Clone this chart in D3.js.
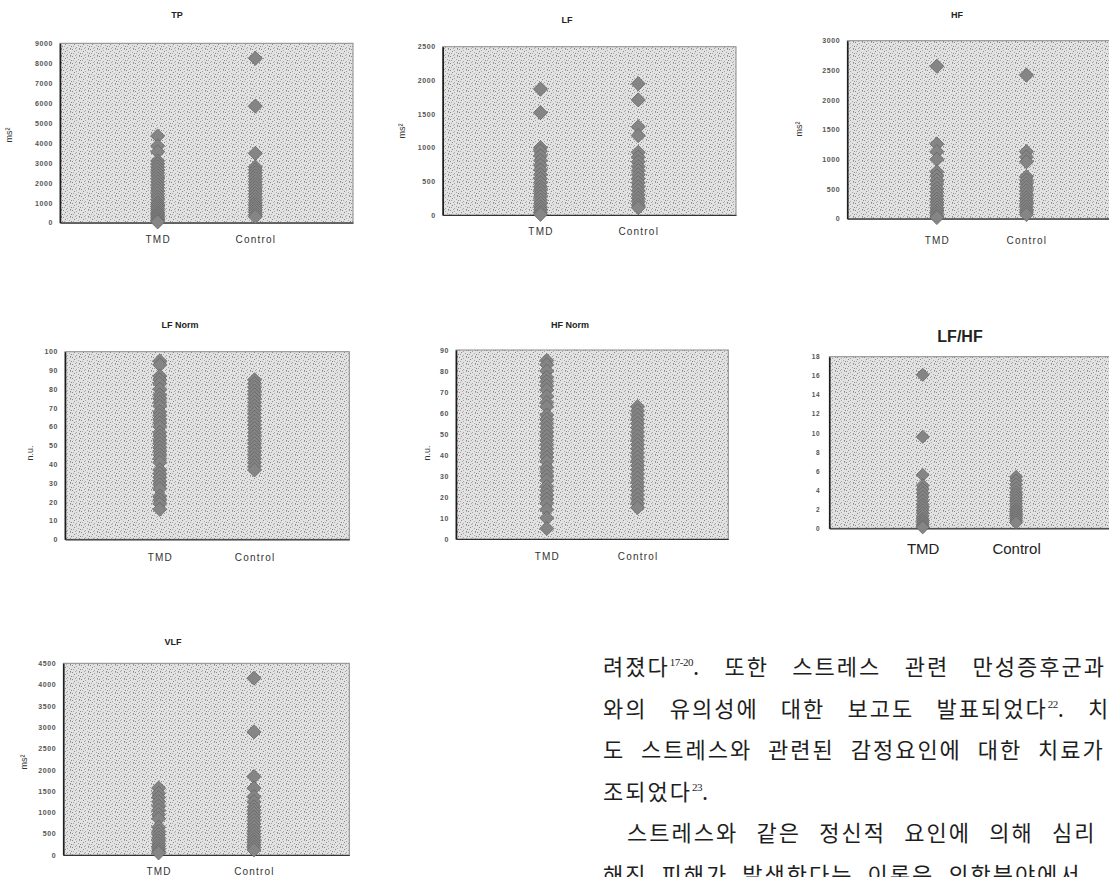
<!DOCTYPE html>
<html>
<head>
<meta charset="utf-8">
<script src="https://cdn.jsdelivr.net/npm/d3@7"></script>
<style>
  body { margin: 0; background: #fff; }
  svg { display: block; }
</style>
</head>
<body>
<div id="container"></div>
<script>
/* DATA */
const groups = ["TMD", "Control"];

const tpTicks = [0, 1000, 2000, 3000, 4000, 5000, 6000, 7000, 8000, 9000];
const tpTMD = [4350, 3850, 3560, 3100, 2950, 2800, 2650, 2500, 2350, 2200, 2050, 1900, 1750, 1600, 1450, 1300, 1150, 1000, 900, 800, 700, 600, 500, 420, 340, 260, 180, 100, 40];
const tpControl = [8250, 5850, 3480, 2800, 2650, 2500, 2350, 2200, 2050, 1900, 1750, 1600, 1450, 1300, 1150, 1000, 880, 760, 640, 520, 400, 300];

const lfTicks = [0, 500, 1000, 1500, 2000, 2500];
const lfTMD = [1870, 1520, 1000, 950, 880, 810, 740, 670, 600, 540, 480, 420, 370, 320, 270, 220, 170, 120, 80, 40, 10];
const lfControl = [1950, 1710, 1310, 1180, 930, 860, 790, 720, 660, 600, 540, 480, 420, 360, 300, 250, 200, 150, 110];

const hfTicks = [0, 500, 1000, 1500, 2000, 2500, 3000];
const hfTMD = [2570, 1260, 1130, 1000, 790, 720, 650, 580, 510, 450, 390, 330, 280, 230, 180, 130, 90, 50, 20];
const hfControl = [2420, 1130, 1040, 960, 710, 650, 590, 530, 470, 410, 350, 300, 250, 200, 150, 110, 70];

const lfnTicks = [0, 10, 20, 30, 40, 50, 60, 70, 80, 90, 100];
const lfnTMD = [95, 93, 87, 85, 83, 80, 77, 75, 73, 71, 68, 66, 64, 62, 60, 57, 55, 53, 51, 49, 47, 45, 43, 41, 37, 35, 33, 31, 29, 27, 23, 21, 19, 16];
const lfnControl = [85, 83, 81, 79, 77, 75, 73, 71, 69, 67, 65, 63, 61, 59, 57, 55, 53, 51, 49, 47, 45, 43, 41, 39, 37];

const hfnTicks = [0, 10, 20, 30, 40, 50, 60, 70, 80, 90];
const hfnTMD = [85, 83, 80, 77, 75, 73, 71, 68, 65, 63, 59, 57, 55, 53, 51, 49, 47, 45, 43, 41, 39, 37, 34, 32, 30, 28, 25, 23, 21, 19, 17, 14, 10, 5];
const hfnControl = [63, 61, 59, 57, 55, 53, 51, 49, 47, 45, 43, 41, 39, 37, 35, 33, 31, 29, 27, 25, 23, 21, 19, 17, 15];

const lfhfTicks = [0, 2, 4, 6, 8, 10, 12, 14, 16, 18];
const lfhfTMD = [16.1, 9.6, 5.6, 4.5, 4.1, 3.7, 3.3, 2.9, 2.5, 2.2, 1.9, 1.6, 1.3, 1.0, 0.8, 0.6, 0.4, 0.2, 0.1];
const lfhfControl = [5.4, 5.0, 4.6, 4.2, 3.8, 3.5, 3.2, 2.9, 2.6, 2.3, 2.0, 1.8, 1.6, 1.4, 1.2, 1.0, 0.8, 0.6];

const vlfTicks = [0, 500, 1000, 1500, 2000, 2500, 3000, 3500, 4000, 4500];
const vlfTMD = [1570, 1450, 1350, 1250, 1150, 1050, 950, 850, 650, 560, 480, 400, 330, 260, 200, 140, 90, 50];
const vlfControl = [4150, 2890, 1840, 1570, 1370, 1250, 1130, 1050, 970, 890, 810, 730, 650, 570, 500, 430, 360, 300, 240, 180, 120];

// body text of the page (words per line, {..} = superscript)
const textLines = [
  ["려졌다{17-20}.", "또한", "스트레스", "관련", "만성증후군과"],
  ["와의", "유의성에", "대한", "보고도", "발표되었다{22}.", "치과"],
  ["도", "스트레스와", "관련된", "감정요인에", "대한", "치료가"],
  ["조되었다{23}."],
  ["스트레스와", "같은", "정신적", "요인에", "의해", "심리"],
  ["해진", "피해가", "발생한다는", "이론은", "의학분야에서"]
];

/* LAYOUT */
const width = 1109, height = 877;

const panels = [
  { title: "TP", tmd: tpTMD, ctl: tpControl, ticks: tpTicks, unit: "ms²",
    left: 60, right: 353, top: 43.3, bottom: 222.7, tx: 177, ty: 18, ux: 12, uy: 135, xBase: 20 },
  { title: "LF", tmd: lfTMD, ctl: lfControl, ticks: lfTicks, unit: "ms²",
    left: 442.7, right: 736, top: 46.7, bottom: 215, tx: 567, ty: 23, ux: 405, uy: 131, xBase: 20 },
  { title: "HF", tmd: hfTMD, ctl: hfControl, ticks: hfTicks, unit: "ms²",
    left: 847.3, right: 1116, top: 40.7, bottom: 218.7, tx: 957, ty: 18, ux: 802, uy: 129, xBase: 25 },
  { title: "LF Norm", tmd: lfnTMD, ctl: lfnControl, ticks: lfnTicks, unit: "n.u.",
    left: 65, right: 349.3, top: 351.7, bottom: 539.3, tx: 180, ty: 328, ux: 33, uy: 453, xBase: 22 },
  { title: "HF Norm", tmd: hfnTMD, ctl: hfnControl, ticks: hfnTicks, unit: "n.u.",
    left: 456, right: 728.3, top: 350, bottom: 539, tx: 570, ty: 328, ux: 430, uy: 453, xBase: 21 },
  { title: "LF/HF", tmd: lfhfTMD, ctl: lfhfControl, ticks: lfhfTicks, unit: "",
    left: 829.3, right: 1109.5, top: 356.7, bottom: 528.3, tx: 960, ty: 342, ux: 0, uy: 0, xBase: 26, big: true },
  { title: "VLF", tmd: vlfTMD, ctl: vlfControl, ticks: vlfTicks, unit: "ms²",
    left: 63.3, right: 349.3, top: 663.3, bottom: 855, tx: 173, ty: 645, ux: 27, uy: 762, xBase: 20 }
];

const svg = d3.select("#container").append("svg")
  .attr("width", width)
  .attr("height", height);

// stippled background like the scanned excel plot area
const defs = svg.append("defs");
const pat = defs.append("pattern")
  .attr("id", "stipple")
  .attr("width", 9).attr("height", 7)
  .attr("patternUnits", "userSpaceOnUse");
pat.append("rect").attr("width", 9).attr("height", 7).attr("fill", "#e2e2e2");
[[0,0],[4,1],[7,0],[2,2],[6,3],[1,4],[8,4],[4,5],[3,6],[7,6]].forEach(([px, py], i) => {
  pat.append("rect").attr("x", px).attr("y", py).attr("width", 1).attr("height", 1)
    .attr("fill", i % 3 ? "#a6a6a6" : "#888");
});

const font = "'Liberation Sans', Arial, sans-serif";

function drawPanel(p) {
  const g = svg.append("g");
  const x = d3.scaleLinear().domain([0, 3]).range([p.left, p.right]);
  const y = d3.scaleLinear().domain([0, p.ticks[p.ticks.length - 1]]).range([p.bottom, p.top]);

  g.append("rect")
    .attr("x", p.left).attr("y", p.top)
    .attr("width", p.right - p.left).attr("height", p.bottom - p.top)
    .attr("fill", "url(#stipple)")
    .attr("stroke", "#8a8a8a").attr("stroke-width", 1);

  const tickFs = p.big ? 6.5 : 7;
  const ya = g.append("g")
    .attr("transform", `translate(${p.left},0)`)
    .call(d3.axisLeft(y).tickValues(p.ticks).tickFormat(d3.format("d")).tickSize(0).tickPadding(p.big ? 9 : 7));
  ya.select(".domain").attr("stroke", "#1e1e1e").attr("stroke-width", 1.6);
  ya.selectAll("text")
    .attr("font-family", font).attr("font-size", tickFs).attr("font-weight", "bold")
    .attr("fill", "#555").attr("letter-spacing", 0.6);

  const xFs = p.big ? 15 : 10;
  const xa = g.append("g")
    .attr("transform", `translate(0,${p.bottom})`)
    .call(d3.axisBottom(x).tickValues([1, 2]).tickFormat((d, i) => groups[i])
      .tickSize(0).tickPadding(p.xBase - 0.71 * xFs));
  xa.select(".domain").attr("stroke", "#333").attr("stroke-width", 1.2);
  xa.selectAll("text")
    .attr("font-family", font).attr("font-size", xFs)
    .attr("fill", p.big ? "#222" : "#333")
    .attr("letter-spacing", p.big ? 0 : 1.2);

  const points = [];
  p.tmd.forEach(v => points.push({ gx: 1, v }));
  p.ctl.forEach(v => points.push({ gx: 2, v }));

  const sym = d3.symbol().type(d3.symbolSquare).size(p.big ? 85 : 100);
  g.selectAll("path.dot")
    .data(points)
    .join("path")
    .attr("class", "dot")
    .attr("d", sym)
    .attr("transform", d => `translate(${x(d.gx)},${y(d.v)}) rotate(45)`)
    .attr("fill", "#858585")
    .attr("stroke", "#636363")
    .attr("stroke-width", 0.7);

  g.append("text")
    .attr("x", p.tx).attr("y", p.ty)
    .attr("text-anchor", "middle")
    .attr("font-family", font)
    .attr("font-weight", "bold")
    .attr("font-size", p.big ? 16 : 9)
    .attr("fill", "#222")
    .text(p.title);

  if (p.unit) {
    g.append("text")
      .attr("transform", `translate(${p.ux},${p.uy}) rotate(-90)`)
      .attr("text-anchor", "middle")
      .attr("font-family", font)
      .attr("font-size", 9)
      .attr("fill", "#333")
      .text(p.unit);
  }
}

panels.forEach(drawPanel);

/* BODY TEXT */
// end = right edge of the last word, anchor = left edge of the last word
const lineStyle = [
  { x0: 603, end: 1106 },
  { x0: 603, anchor: 1088 },
  { x0: 603, anchor: 1038 },
  { x0: 603 },
  { x0: 627, anchor: 1052 },
  { x0: 603, gap: 14 }
];
const lineBase = [675, 716.5, 758, 799.5, 841, 882.5];
const bodyFont = "'Noto Sans CJK KR', sans-serif";

function writeWord(g, word, x, yb) {
  // a word can carry a superscript reference {..}
  const parts = word.split(/[{}]/);
  let cx = x;
  parts.forEach((t, i) => {
    if (!t) return;
    const sup = i % 2 === 1;
    const el = g.append("text")
      .attr("x", cx).attr("y", sup ? yb - 9 : yb)
      .attr("font-family", sup ? "'Liberation Serif', serif" : bodyFont)
      .attr("font-size", sup ? 11 : 22)
      .attr("letter-spacing", sup ? -0.5 : 2)
      .attr("fill", "#1e1e1e")
      .text(t);
    cx += el.node().getComputedTextLength();
  });
  return cx - x;
}

const textG = svg.append("g");
textLines.forEach((words, li) => {
  const st = lineStyle[li];
  const yb = lineBase[li];
  const tmp = textG.append("g").attr("opacity", 0);
  const widths = words.map(w => writeWord(tmp, w, 0, 0));
  tmp.remove();
  let gap = st.gap || 14;
  if (words.length > 1) {
    const before = d3.sum(widths.slice(0, -1));
    if (st.anchor) gap = (st.anchor - st.x0 - before) / (words.length - 1);
    if (st.end) gap = (st.end - widths[widths.length - 1] - st.x0 - before) / (words.length - 1);
  }
  let cx = st.x0;
  words.forEach((w, i) => {
    writeWord(textG, w, cx, yb);
    cx += widths[i] + gap;
  });
});
</script>
</body>
</html>
